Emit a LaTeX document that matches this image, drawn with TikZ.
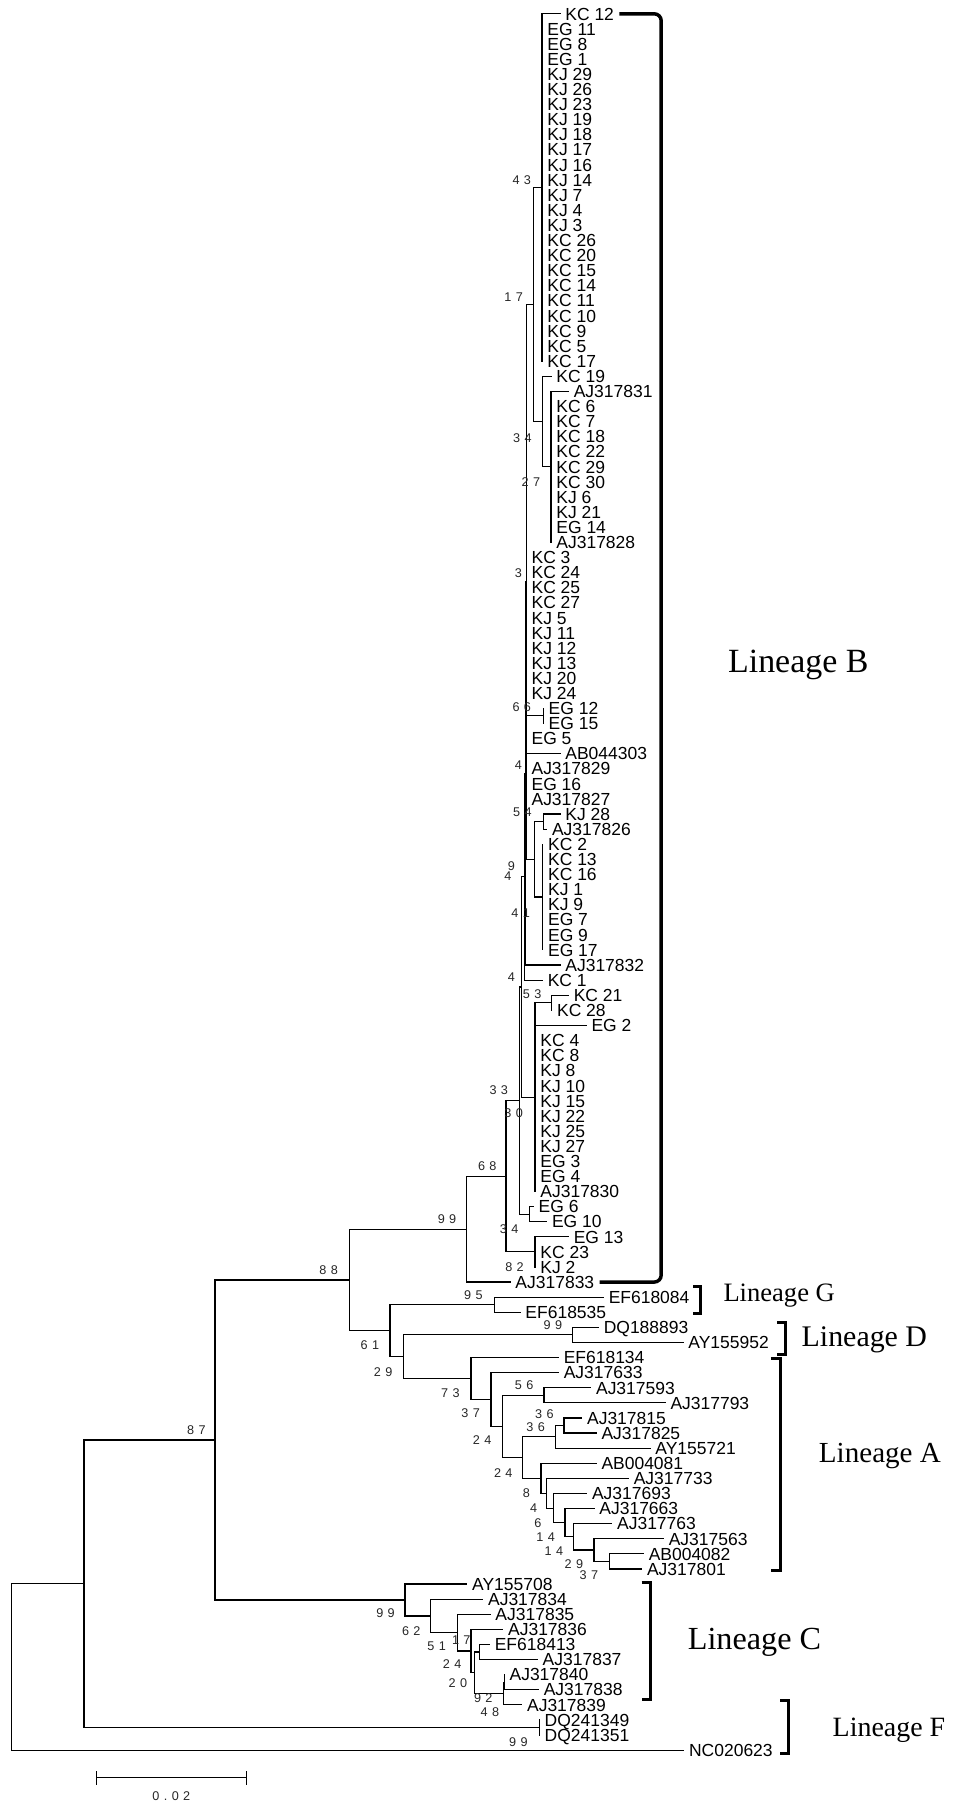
\documentclass[tikz,border=0pt]{standalone}
\usepackage{fontspec}
\setmainfont{Liberation Sans}
\newfontfamily\linfont{Liberation Serif}
\newfontfamily\bootfont[LetterSpace=35]{Liberation Sans}
\newcommand\leaffont{\fontsize{15.2}{16}\selectfont}
\newcommand\bsfont{\bootfont\fontsize{11}{12}\selectfont}

\begin{document}
\begin{tikzpicture}[x=1pt, y=-1pt,
    leaf/.style={anchor=west, font=\leaffont, inner xsep=4.5pt, inner ysep=0pt, text height=10.9pt, text depth=0pt},
    boot/.style={anchor=east, font=\bsfont, text=black!85, inner sep=0pt, text height=7.9pt, text depth=0pt},
    branch/.style={line width=1pt, line cap=rect},
    brace/.style={line width=2.6pt},
    lineage/.style={anchor=west, inner sep=0pt}]
    \useasboundingbox (0,0) rectangle (828,1568);

    % vnitřní uzly - linie B
    \coordinate (P1) at (471.4,163.0);
    \coordinate (P2) at (479.2,405.9);
    \coordinate (N34) at (472.0,366.5);
    \coordinate (N43) at (464.0,264.8);
    \coordinate (N66) at (472.5,622.6);
    \coordinate (N54a) at (472.5,714.5);
    \coordinate (P4) at (472.0,780.1);
    \coordinate (N54) at (465.0,747.3);
    \coordinate (P3) at (457.6,506.0);
    \coordinate (NA) at (457.0,672.6);
    \coordinate (NB) at (456.4,762.5);
    \coordinate (N53) at (479.8,872.0);
    \coordinate (P5) at (465.3,954.1);
    \coordinate (N41) at (453.7,858.3);
    \coordinate (N34b) at (460.6,1055.9);
    \coordinate (N30) at (451.5,957.1);
    \coordinate (N82) at (465.3,1088.7);
    \coordinate (N33) at (440.0,1022.9);
    \coordinate (N99) at (405.9,1068.9);

    % vnitřní uzly - linie G, D, A
    \coordinate (N95) at (429.9,1134.7);
    \coordinate (N99d) at (498.0,1160.9);
    \coordinate (N36b) at (490.5,1239.7);
    \coordinate (N36a) at (483.3,1249.5);
    \coordinate (N37b) at (530.0,1357.9);
    \coordinate (N29b) at (516.6,1348.0);
    \coordinate (N14b) at (498.6,1336.5);
    \coordinate (N14a) at (491.4,1324.2);
    \coordinate (N6) at (481.3,1311.5);
    \coordinate (N4) at (475.4,1298.6);
    \coordinate (N8) at (470.5,1285.6);
    \coordinate (N24b) at (454.3,1267.6);
    \coordinate (N56) at (473.1,1213.4);
    \coordinate (N24a) at (436.9,1240.5);
    \coordinate (N37) at (427.0,1217.1);
    \coordinate (N73) at (409.6,1198.9);
    \coordinate (N29) at (350.8,1179.9);
    \coordinate (N61) at (339.2,1157.3);
    \coordinate (N88) at (303.8,1113.1);

    % vnitřní uzly - linie C, F a kořen
    \coordinate (N48) at (438.5,1462.9);
    \coordinate (N92) at (437.8,1472.8);
    \coordinate (Nef) at (416.9,1436.7);
    \coordinate (N20) at (412.3,1454.7);
    \coordinate (N17c) at (409.6,1435.8);
    \coordinate (N51) at (397.8,1419.8);
    \coordinate (N62) at (374.6,1405.3);
    \coordinate (N99c) at (352.2,1391.4);
    \coordinate (N87) at (187.0,1252.3);
    \coordinate (N99f) at (469.0,1502.3);
    \coordinate (N84) at (73.0,1377.3);
    \coordinate (root) at (10.0,1449.7);

    % větve mezi uzly
    \foreach \a/\b in {N43/P1, N43/N34, N34/P2, P3/N43, P3/N66, N54/N54a, N54/P4,
        P3/N54, NA/P3, NB/NA, N41/NB, P5/N53, N41/P5, N30/N41, N30/N34b, N33/N30,
        N33/N82, N99/N33, N88/N99, N88/N61, N61/N95, N61/N29, N29/N99d, N29/N73,
        N73/N37, N37/N24a, N24a/N56, N24a/N24b, N24b/N36a, N36a/N36b, N24b/N8,
        N8/N4, N4/N6, N6/N14a, N14a/N14b, N14b/N29b, N29b/N37b, N87/N88, N87/N99c,
        N99c/N62, N62/N51, N51/N17c, N17c/N20, N20/Nef, N20/N92, N92/N48,
        N84/N87, N84/N99f, root/N84}
        \draw[branch] (\a) |- (\b);

    % listy
    \foreach \x/\p/\t [count=\i] in {487/P1/KC 12, 471.4/P1/EG 11, 471.4/P1/EG 8,
        471.4/P1/EG 1, 471.4/P1/KJ 29, 471.4/P1/KJ 26, 471.4/P1/KJ 23, 471.4/P1/KJ 19,
        471.4/P1/KJ 18, 471.4/P1/KJ 17, 471.4/P1/KJ 16, 471.4/P1/KJ 14, 471.4/P1/KJ 7,
        471.4/P1/KJ 4, 471.4/P1/KJ 3, 471.4/P1/KC 26, 471.4/P1/KC 20, 471.4/P1/KC 15,
        471.4/P1/KC 14, 471.4/P1/KC 11, 471.4/P1/KC 10, 471.4/P1/KC 9, 471.4/P1/KC 5,
        471.4/P1/KC 17, 479.2/N34/KC 19, 494.3/P2/AJ317831, 479.2/P2/KC 6,
        479.2/P2/KC 7, 479.2/P2/KC 18, 479.2/P2/KC 22, 479.2/P2/KC 29, 479.2/P2/KC 30,
        479.2/P2/KJ 6, 479.2/P2/KJ 21, 479.2/P2/EG 14, 479.2/P2/AJ317828,
        457.6/P3/KC 3, 457.6/P3/KC 24, 457.6/P3/KC 25, 457.6/P3/KC 27, 457.6/P3/KJ 5,
        457.6/P3/KJ 11, 457.6/P3/KJ 12, 457.6/P3/KJ 13, 457.6/P3/KJ 20, 457.6/P3/KJ 24,
        472.5/N66/EG 12, 472.5/N66/EG 15, 457.6/P3/EG 5, 487/P3/AB044303,
        457.6/P3/AJ317829, 457.6/P3/EG 16, 457.6/P3/AJ317827, 487/N54a/KJ 28,
        475.4/N54a/AJ317826, 472/P4/KC 2, 472/P4/KC 13, 472/P4/KC 16, 472/P4/KJ 1,
        472/P4/KJ 9, 472/P4/EG 7, 472/P4/EG 9, 472/P4/EG 17, 487/NA/AJ317832,
        471.7/NB/KC 1, 494.3/N53/KC 21, 479.8/N53/KC 28, 509.7/P5/EG 2,
        465.3/P5/KC 4, 465.3/P5/KC 8, 465.3/P5/KJ 8, 465.3/P5/KJ 10, 465.3/P5/KJ 15,
        465.3/P5/KJ 22, 465.3/P5/KJ 25, 465.3/P5/KJ 27, 465.3/P5/EG 3, 465.3/P5/EG 4,
        465.3/P5/AJ317830, 463.8/N34b/EG 6, 475.4/N34b/EG 10, 494.3/N82/EG 13,
        465.3/N82/KC 23, 465.3/N82/KJ 2, 443.6/N99/AJ317833,
        524.7/N95/EF618084, 452.3/N95/EF618535, 520.4/N99d/DQ188893,
        594/N99d/AY155952, 485.6/N73/EF618134, 485.6/N37/AJ317633,
        513.7/N56/AJ317593, 578.4/N56/AJ317793, 505.9/N36b/AJ317815,
        518.4/N36b/AJ317825, 565.3/N36a/AY155721, 518.4/N8/AB004081,
        546.5/N4/AJ317733, 510.2/N6/AJ317693, 516.6/N14a/AJ317663,
        532/N14b/AJ317763, 576.9/N29b/AJ317563, 559.5/N37b/AB004082,
        558/N37b/AJ317801, 405.9/N99c/AY155708, 419.8/N62/AJ317834,
        426.2/N51/AJ317835, 437.2/N17c/AJ317836, 425.6/Nef/EF618413,
        467.3/Nef/AJ317837, 438.5/N48/AJ317840, 468.2/N48/AJ317838,
        453.7/N92/AJ317839, 469/N99f/DQ241349, 469/N99f/DQ241351,
        594.6/root/NC020623} {
        \node[leaf] (l\i) at (\x,{12+(\i-1)*13.1304}) {\t};
        \draw[branch] (\p) |- (l\i.west);
    }

    % bootstrap
    \foreach \x/\y/\t [count=\k] in {462/156.5/43, 455/258/17, 462.6/381/34,
        470/419/27, 454/498/3, 462/615/66, 454/665/4, 462.6/706/54, 448/753/9,
        445/762/4, 461/794/41, 448/850/4, 471/864/53, 442/948/33, 455/968/30,
        432/1014/68, 451/1069/34, 397/1060/99, 455.7/1102/82, 294/1104.5/88,
        179/1243.5/87, 420/1126/95, 489/1152.4/99, 330/1170/61, 341.5/1193/29,
        400/1211.6/73, 464/1204.6/56, 417.5/1229/37, 481.6/1229.8/36,
        474/1240.8/36, 427.6/1252.4/24, 445.9/1280.8/24, 461/1298.7/8,
        467.3/1311/4, 471/1324.3/6, 482.7/1336.5/14, 490/1348.6/14,
        507.3/1360.3/29, 520.4/1369.8/37, 343.5/1403/99, 365.9/1418.2/62,
        387.9/1431.6/51, 409.4/1426.3/17, 401.5/1447.2/24, 406.4/1464/20,
        428.5/1476.2/92, 434.3/1488.7/48, 459/1514.8/99}
        \node[boot] (b\k) at (\x,\y) {\t};

    % závorky linií
    \coordinate (zB) at (575,12);
    \draw[brace, line width=3pt, rounded corners=6pt] (l1.east) -- (zB) |- (l85.east);
    \draw[brace] (603,1118.5) -- (609,1118.5) -- (609,1142) -- (603,1142);
    \draw[brace] (676,1150) -- (683,1150) -- (683,1178) -- (676,1178);
    \draw[brace] (670.3,1181) -- (678.4,1181) -- (678.4,1366) -- (670.3,1366);
    \draw[brace] (558,1376.5) -- (565.3,1376.5) -- (565.3,1478) -- (558,1478);
    \draw[brace] (678.4,1479) -- (685.4,1479) -- (685.4,1525) -- (678.4,1525);

    % popisky linií
    \node[lineage, font={\linfont\fontsize{29.5}{30}\selectfont}] (linB) at (633,578) {Lineage B};
    \node[lineage, font={\linfont\fontsize{23.1}{24}\selectfont}] (linG) at (629,1127) {Lineage G};
    \node[lineage, font={\linfont\fontsize{26}{27}\selectfont}] (linD) at (697,1165) {Lineage D};
    \node[lineage, font={\linfont\fontsize{25.3}{26}\selectfont}] (linA) at (712,1266) {Lineage A};
    \node[lineage, font={\linfont\fontsize{28}{29}\selectfont}] (linC) at (598,1428) {Lineage C};
    \node[lineage, font={\linfont\fontsize{24.3}{25}\selectfont}] (linF) at (724,1505) {Lineage F};

    % měřítko
    \coordinate (m1) at (84.2,1546);
    \coordinate (m2) at (214,1546);
    \draw[branch] (m1) -- (m2);
    \draw[branch] ([yshift=-5.5pt]m1) -- ([yshift=5.5pt]m1);
    \draw[branch] ([yshift=-5.5pt]m2) -- ([yshift=5.5pt]m2);
    \node[boot, anchor=center] (mlab) at (149,1562) {0.02};
\end{tikzpicture}
\end{document}
